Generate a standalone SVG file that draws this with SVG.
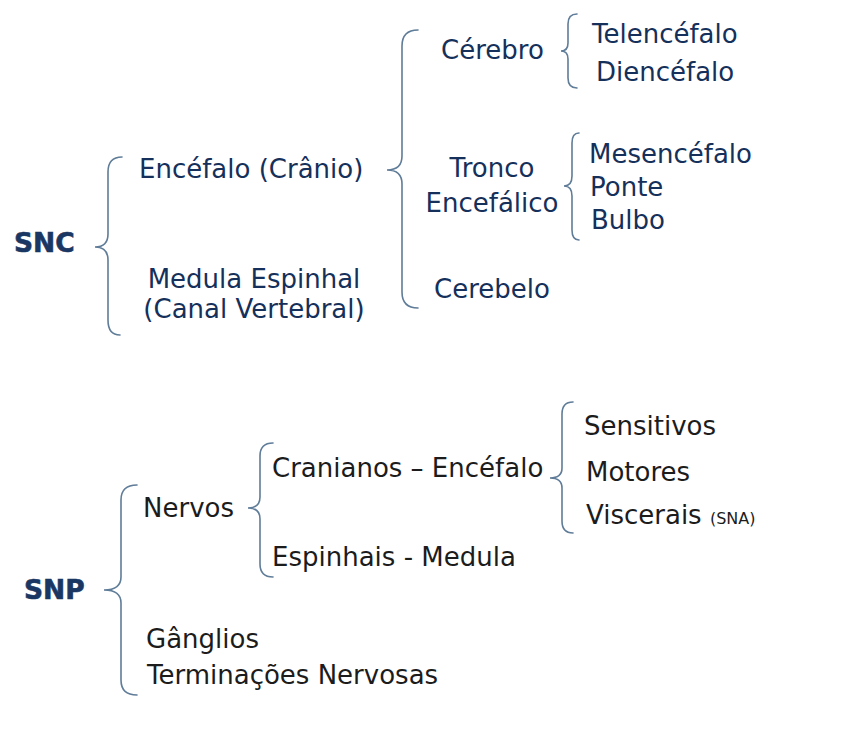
<svg xmlns="http://www.w3.org/2000/svg" width="857" height="734" viewBox="0 0 857 734">
<style>
.t{font-family:"DejaVu Sans","Liberation Sans",sans-serif;font-size:26px;fill:#15305a}
.b{font-family:"DejaVu Sans","Liberation Sans",sans-serif;font-size:26px;fill:#1c1c1c}
.h{font-family:"DejaVu Sans","Liberation Sans",sans-serif;font-size:26.5px;font-weight:bold;fill:#1a3763;stroke:#1a3763;stroke-width:0.6}
.s{font-family:"DejaVu Sans","Liberation Sans",sans-serif;font-size:16px;fill:#1c1c1c}
.c{text-anchor:middle}
.br{fill:none;stroke:#5f7c98;stroke-width:1.6;stroke-linecap:round}
</style>
<rect width="857" height="734" fill="#ffffff"/>
<g id="connectors">
<path class="br" d="M122 157 Q108 157 108 172 L108 234 Q108 247 95 247 Q108 247 108 260 L108 320 Q108 335 120 335"/>
<path class="br" d="M418 30 Q402 30 402 46 L402 156 Q402 170 387 170 Q402 170 402 184 L402 292 Q402 308 418 308"/>
<path class="br" d="M577 14 Q568 14 568 24 L568 43 Q568 51 561 51 Q568 51 568 59 L568 78 Q568 88 577 88"/>
<path class="br" d="M579 133 Q572 133 572 143 L572 176 Q572 186 564 186 Q572 186 572 196 L572 230 Q572 240 579 240"/>
<path class="br" d="M137 485 Q121 485 121 500 L121 577 Q121 590 104 590 Q121 590 121 603 L121 680 Q121 695 137 695"/>
<path class="br" d="M273 443 Q260 443 260 456 L260 497 Q260 508 248 508 Q260 508 260 519 L260 564 Q260 577 273 577"/>
<path class="br" d="M573 402 Q562 402 562 414 L562 468 Q562 478 550 478 Q562 478 562 488 L562 521 Q562 533 573 533"/>
</g>
<g id="snc"><text class="h" x="14" y="252">SNC</text></g>
<g id="encefalo"><text class="t" x="139" y="178">Encéfalo (Crânio)</text></g>
<g id="medula"><text class="t c" x="254" y="288">Medula Espinhal</text><text class="t c" x="254" y="318">(Canal Vertebral)</text></g>
<g id="cerebro"><text class="t" x="441" y="59">Cérebro</text></g>
<g id="telencefalo"><text class="t" x="592" y="43">Telencéfalo</text></g>
<g id="diencefalo"><text class="t" x="596" y="81">Diencéfalo</text></g>
<g id="tronco"><text class="t c" x="492" y="177">Tronco</text><text class="t c" x="492" y="212">Encefálico</text></g>
<g id="mesencefalo"><text class="t" x="589" y="163">Mesencéfalo</text></g>
<g id="ponte"><text class="t" x="590" y="196">Ponte</text></g>
<g id="bulbo"><text class="t" x="591" y="229">Bulbo</text></g>
<g id="cerebelo"><text class="t" x="434" y="298">Cerebelo</text></g>
<g id="snp"><text class="h" x="24" y="599">SNP</text></g>
<g id="nervos"><text class="b" x="143" y="517">Nervos</text></g>
<g id="cranianos"><text class="b" x="272" y="477">Cranianos – Encéfalo</text></g>
<g id="espinhais"><text class="b" x="272" y="566">Espinhais - Medula</text></g>
<g id="sensitivos"><text class="b" x="584" y="435">Sensitivos</text></g>
<g id="motores"><text class="b" x="586" y="481">Motores</text></g>
<g id="viscerais"><text class="b" x="586" y="524">Viscerais <tspan class="s">(SNA)</tspan></text></g>
<g id="ganglios"><text class="b" x="146" y="648">Gânglios</text></g>
<g id="terminacoes"><text class="b" x="147" y="684">Terminações Nervosas</text></g>
</svg>
